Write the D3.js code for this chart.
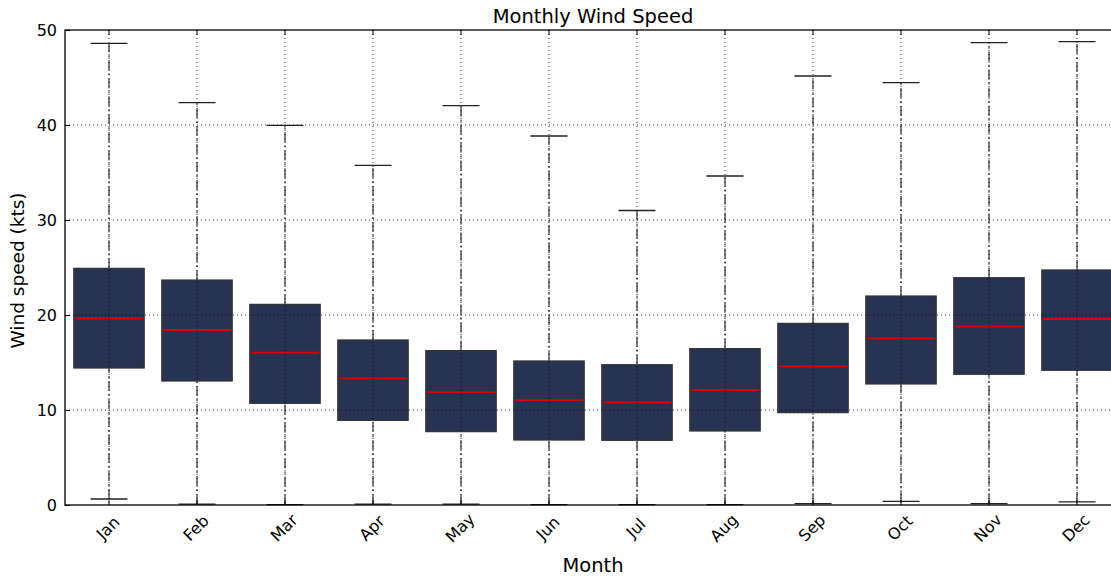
<!DOCTYPE html>
<html>
<head>
<meta charset="utf-8">
<script src="https://cdn.jsdelivr.net/npm/d3@7"></script>
<style>
  body { margin: 0; background: #fff; }
  svg { display: block; font-family: "DejaVu Sans", sans-serif; }
</style>
</head>
<body>
<svg id="chart" width="1111" height="579"></svg>
<script>
// Monthly wind speed distribution (knots)
const months = ["Jan","Feb","Mar","Apr","May","Jun","Jul","Aug","Sep","Oct","Nov","Dec"];
const whiskerLow  = [0.63, 0.10, 0.05, 0.10, 0.10, 0.05, 0.05, 0.05, 0.15, 0.39, 0.15, 0.32];
const q1          = [14.42, 13.05, 10.70, 8.91, 7.72, 6.84, 6.81, 7.79, 9.72, 12.74, 13.76, 14.18];
const medians     = [19.65, 18.42, 16.03, 13.33, 11.89, 11.05, 10.81, 12.10, 14.60, 17.54, 18.77, 19.58];
const q3          = [24.91, 23.68, 21.12, 17.37, 16.25, 15.16, 14.77, 16.46, 19.12, 22.00, 23.93, 24.74];
const whiskerHigh = [48.60, 42.35, 39.96, 35.76, 42.04, 38.84, 31.00, 34.63, 45.16, 44.46, 48.67, 48.77];
const yTicks = [0, 10, 20, 30, 40, 50];

const data = months.map((m, i) => ({
  month: m, lo: whiskerLow[i], q1: q1[i], med: medians[i], q3: q3[i], hi: whiskerHigh[i]
}));

const margin = { left: 65, top: 30, right: 1121, bottom: 505 };
const svg = d3.select("#chart");

const x = d3.scaleBand().domain(months).range([margin.left, margin.right]).padding(0);
const y = d3.scaleLinear().domain([0, 50]).range([margin.bottom, margin.top]);

const step = x.step();
const boxW = step * 0.8;
const capW = step * 0.42;
const cx = d => x(d.month) + step / 2;

const plot = svg.append("g");

// whiskers (dash-dot)
plot.selectAll(".whisker-lo").data(data).join("line")
  .attr("x1", cx).attr("x2", cx)
  .attr("y1", d => y(d.lo)).attr("y2", d => y(d.q1))
  .attr("stroke", "#000").attr("stroke-width", 1)
  .attr("stroke-dasharray", "10,3,2,3");
plot.selectAll(".whisker-hi").data(data).join("line")
  .attr("x1", cx).attr("x2", cx)
  .attr("y1", d => y(d.q3)).attr("y2", d => y(d.hi))
  .attr("stroke", "#000").attr("stroke-width", 1)
  .attr("stroke-dasharray", "10,3,2,3");

// caps
["lo", "hi"].forEach(k => {
  plot.selectAll(".cap-" + k).data(data).join("line")
    .attr("x1", d => cx(d) - capW / 2).attr("x2", d => cx(d) + capW / 2)
    .attr("y1", d => y(d[k])).attr("y2", d => y(d[k]))
    .attr("stroke", "#222").attr("stroke-width", 1.3);
});

// boxes
plot.selectAll(".box").data(data).join("rect")
  .attr("x", d => cx(d) - boxW / 2)
  .attr("width", boxW)
  .attr("y", d => y(d.q3))
  .attr("height", d => y(d.q1) - y(d.q3))
  .attr("fill", "#283354")
  .attr("stroke", "#333").attr("stroke-width", 1.2);

// medians
plot.selectAll(".median").data(data).join("line")
  .attr("x1", d => cx(d) - boxW / 2 + 1).attr("x2", d => cx(d) + boxW / 2 - 1)
  .attr("y1", d => y(d.med)).attr("y2", d => y(d.med))
  .attr("stroke", "#e00000").attr("stroke-width", 1.8);

// grid on top
const grid = svg.append("g");
grid.selectAll(".hgrid").data(yTicks.filter(t => t > 0 && t < 50)).join("line")
  .attr("x1", margin.left).attr("x2", margin.right)
  .attr("y1", d => y(d)).attr("y2", d => y(d))
  .attr("stroke", "#000").attr("stroke-width", 0.8).attr("stroke-dasharray", "1,3");
grid.selectAll(".vgrid").data(data).join("line")
  .attr("x1", cx).attr("x2", cx)
  .attr("y1", margin.top).attr("y2", margin.bottom)
  .attr("stroke", "#000").attr("stroke-width", 0.8).attr("stroke-dasharray", "1,3");

// axes with inward ticks
const yAxis = d3.axisLeft(y).tickValues(yTicks).tickSize(-5).tickPadding(8).tickFormat(d3.format("d"));
const gy = svg.append("g").attr("transform", `translate(${margin.left},0)`).call(yAxis);
gy.select(".domain").remove();
gy.selectAll("text").attr("font-size", 16).attr("fill", "#000").attr("font-family", "DejaVu Sans, sans-serif");

const xAxis = d3.axisBottom(x).tickSize(-5).tickPadding(0);
const gx = svg.append("g").attr("transform", `translate(0,${margin.bottom})`).call(xAxis);
gx.select(".domain").remove();
gx.selectAll("text")
  .attr("font-size", 16).attr("fill", "#000").attr("font-family", "DejaVu Sans, sans-serif")
  .attr("text-anchor", "middle").attr("dy", null).attr("y", null)
  .attr("dominant-baseline", "central")
  .attr("transform", "translate(-1,23) rotate(-45)");

const xTop = d3.axisTop(x).tickSize(-5).tickFormat("");
const gt = svg.append("g").attr("transform", `translate(0,${margin.top})`).call(xTop);
gt.select(".domain").remove();

// frame
svg.append("rect")
  .attr("x", margin.left).attr("y", margin.top)
  .attr("width", margin.right - margin.left).attr("height", margin.bottom - margin.top)
  .attr("fill", "none").attr("stroke", "#000").attr("stroke-width", 1.3);

// titles
svg.append("text").attr("x", (margin.left + margin.right) / 2).attr("y", 23)
  .attr("text-anchor", "middle").attr("font-size", 19.5).text("Monthly Wind Speed");
svg.append("text").attr("x", (margin.left + margin.right) / 2).attr("y", 572)
  .attr("text-anchor", "middle").attr("font-size", 19.5).text("Month");
svg.append("text")
  .attr("transform", `translate(24,${(margin.top + margin.bottom) / 2 + 3}) rotate(-90)`)
  .attr("text-anchor", "middle").attr("font-size", 18.5).text("Wind speed (kts)");
</script>
</body>
</html>
